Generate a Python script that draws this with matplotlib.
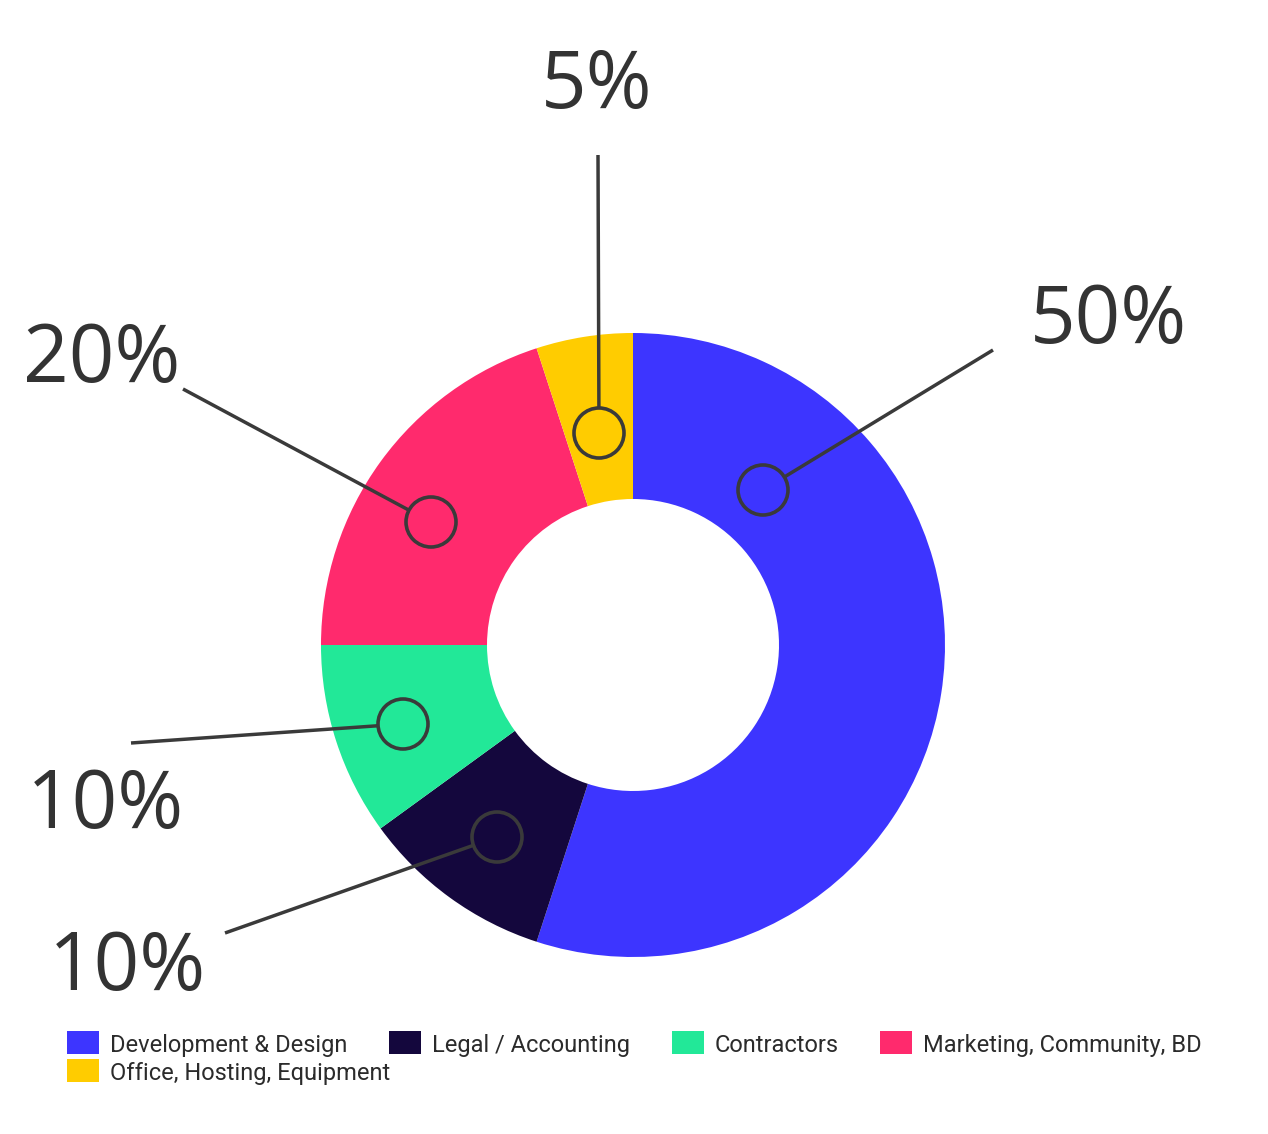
import matplotlib.pyplot as plt
from matplotlib.patches import Circle, Rectangle

# data
categories = ['Development & Design', 'Legal / Accounting', 'Contractors',
              'Marketing, Community, BD', 'Office, Hosting, Equipment']
values = [55, 10, 10, 20, 5]
labels = ['50%', '10%', '10%', '20%', '5%']
colors = ['#3d35ff', '#14073d', '#22e898', '#ff2a6d', '#ffcc00']

W, H = 1268, 1134
CX, CY, R = 633, 645, 312
INK = '#3a3a3a'


def px(x, y):
    # image pixel -> data units (donut radius = 1)
    return (x - CX) / R, (CY - y) / R


# callout layout (image pixels): circle centre, line outer end, label centre x, label baseline
callouts = {
    'Development & Design': ((763, 490), (993, 350), 1108, 343),
    'Legal / Accounting': ((497, 837), (225, 933), 127, 990),
    'Contractors': ((403, 724), (131, 743), 105, 828),
    'Marketing, Community, BD': ((431, 522), (183, 389), 102, 382),
    'Office, Hosting, Equipment': ((599, 433), (598, 155), 597, 108),
}

fig = plt.figure(figsize=(W / 100, H / 100), dpi=100)
ax = fig.add_axes([0, 0, 1, 1])

ax.pie(values, colors=colors, startangle=90, counterclock=False, radius=1,
       wedgeprops=dict(width=1 - 146 / R, linewidth=0))

# pie resets the limits, so set them afterwards
ax.set_xlim(-CX / R, (W - CX) / R)
ax.set_ylim(-(H - CY) / R, CY / R)
ax.set_aspect('equal')
ax.axis('off')

cr = 25 / R
for cat, lab in zip(categories, labels):
    (cx, cy), (ex, ey), lx, ly = callouts[cat]
    c = px(cx, cy)
    e = px(ex, ey)
    dx, dy = e[0] - c[0], e[1] - c[1]
    d = (dx ** 2 + dy ** 2) ** 0.5
    s = (c[0] + dx / d * cr, c[1] + dy / d * cr)
    ax.plot([s[0], e[0]], [s[1], e[1]], color=INK, lw=2.5, solid_capstyle='butt')
    ax.add_patch(Circle(c, cr, fill=False, edgecolor=INK, lw=2.6))
    tx, ty = px(lx, ly)
    ax.text(tx, ty, lab, ha='center', va='baseline', fontsize=57.5,
            family='Open Sans', color='#333333')

# legend, laid out in rows like the original (square left x, row top y)
legend_pos = [(67, 1031), (389, 1031), (672, 1031), (880, 1031), (67, 1059)]
for cat, col, (lx, ly) in zip(categories, colors, legend_pos):
    x0, y0 = px(lx, ly + 23)
    ax.add_patch(Rectangle((x0, y0), 32 / R, 23 / R, facecolor=col, edgecolor='none'))
    tx, ty = px(lx + 43, ly + 21)
    ax.text(tx, ty, cat, ha='left', va='baseline', fontsize=17,
            family='Roboto', color='#2b2b2b')

fig.savefig('out.png', dpi=100)
